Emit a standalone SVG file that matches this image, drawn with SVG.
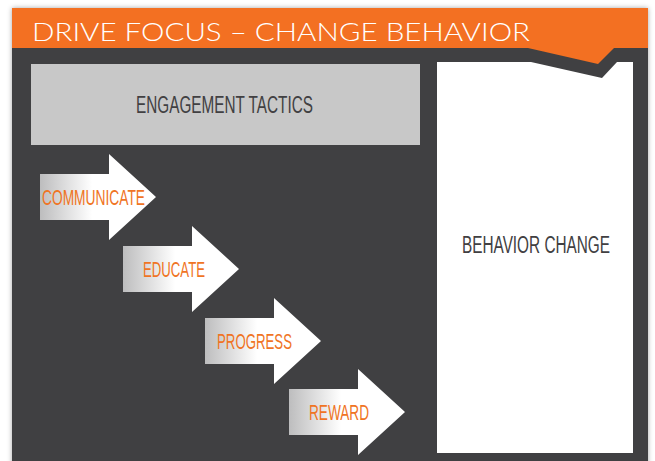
<svg xmlns="http://www.w3.org/2000/svg" width="655" height="461" viewBox="0 0 655 461">
  <defs>
    <style>
      .lbl { font-family: "Liberation Sans", Arial, sans-serif; font-size: 22.5px; fill: #f07424; text-anchor: middle; }
      .dk { font-family: "Liberation Sans", Arial, sans-serif; font-size: 23px; fill: #414042; text-anchor: middle; }
      .title { font-family: "Lato", "Open Sans", sans-serif; font-weight: 300; font-size: 26px; fill: #ffffff; }
    </style>
    <linearGradient id="ag" x1="0" y1="0" x2="1" y2="0">
      <stop offset="0" stop-color="#bdbdbe"/>
      <stop offset="0.45" stop-color="#ffffff"/>
      <stop offset="1" stop-color="#ffffff"/>
    </linearGradient>
    <path id="arrow" d="M0,-23 H69 V-43 L116,0 L69,43 V23 H0 Z" fill="url(#ag)"/>
    <filter id="sh" x="-5%" y="-5%" width="110%" height="110%">
      <feDropShadow dx="0" dy="0" stdDeviation="2.5" flood-color="#000" flood-opacity="0.35"/>
    </filter>
  </defs>

  <rect width="655" height="461" fill="#ffffff"/>

  <g id="frame" filter="url(#sh)">
    <rect x="12" y="47" width="636" height="420" fill="#414042"/>
    <polygon points="12,8 648,8 648,48 614,48 598,64 528,48 12,48" fill="#f37021"/>
  </g>
  <text class="title" x="32" y="41" textLength="498" lengthAdjust="spacingAndGlyphs">DRIVE FOCUS – CHANGE BEHAVIOR</text>

  <g id="engagement-tactics">
    <rect x="31" y="64" width="389" height="81" fill="#c8c8c8"/>
    <text class="dk" x="224.5" y="113" textLength="177" lengthAdjust="spacingAndGlyphs">ENGAGEMENT TACTICS</text>
  </g>

  <g id="behavior-change">
    <polygon points="437,62 531,62 602,78 617,62 633,62 633,453 437,453" fill="#ffffff"/>
    <text class="dk" x="536" y="253" textLength="148" lengthAdjust="spacingAndGlyphs">BEHAVIOR CHANGE</text>
  </g>

  <g id="connectors">
    <g id="communicate">
      <use href="#arrow" transform="translate(40,197)"/>
      <text class="lbl" x="93.5" y="205" textLength="103" lengthAdjust="spacingAndGlyphs">COMMUNICATE</text>
    </g>
    <g id="educate">
      <use href="#arrow" transform="translate(123,269)"/>
      <text class="lbl" x="174" y="277" textLength="62" lengthAdjust="spacingAndGlyphs">EDUCATE</text>
    </g>
    <g id="progress">
      <use href="#arrow" transform="translate(205,341)"/>
      <text class="lbl" x="254.5" y="349" textLength="75" lengthAdjust="spacingAndGlyphs">PROGRESS</text>
    </g>
    <g id="reward">
      <use href="#arrow" transform="translate(289,412)"/>
      <text class="lbl" x="339" y="420" textLength="60" lengthAdjust="spacingAndGlyphs">REWARD</text>
    </g>
  </g>
</svg>
